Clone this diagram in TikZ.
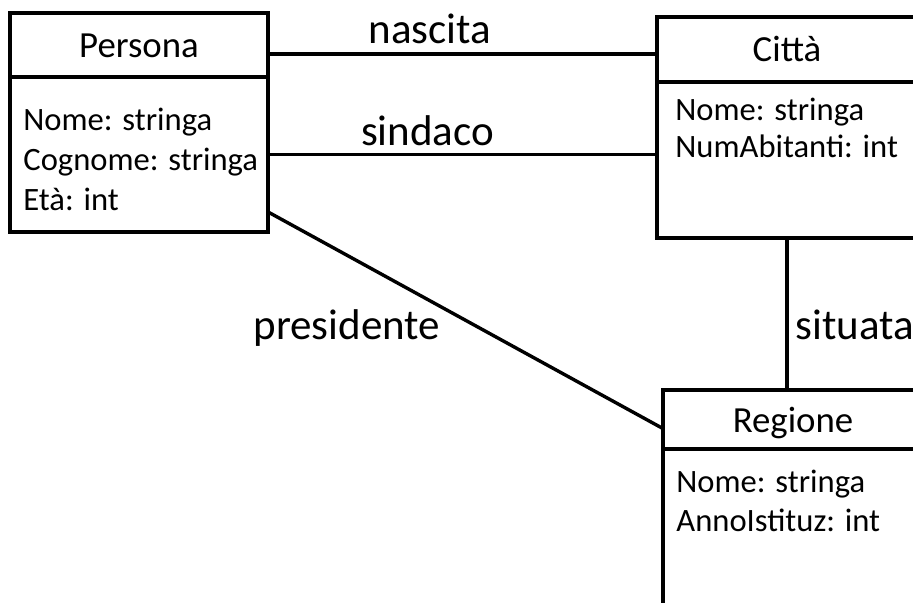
\documentclass[tikz,border=0pt]{standalone}
\usepackage{fontspec}
\setmainfont{Carlito}
\usetikzlibrary{positioning}

\begin{document}
\begin{tikzpicture}[
    x=0.5pt,
    y=-0.5pt,
    classname/.style={draw, rectangle, line width=2pt, outer sep=0pt, inner sep=0pt,
      minimum width=130pt, anchor=north west, text height=12.5pt, text depth=0pt,
      font=\fontsize{18.4}{22}\selectfont},
    classbody/.style={draw, rectangle, line width=2pt, outer sep=0pt,
      minimum width=130pt, minimum height=78pt},
    attrs/.style={anchor=base west, inner sep=0pt, align=left,
      font=\fontsize{16.3}{19.5}\selectfont},
    assoc/.style={line width=1.7pt},
    role/.style={inner sep=0pt, font=\fontsize{21.5}{26}\selectfont}
  ]

  \useasboundingbox (0,0) rectangle (913,603);
  \clip (0,0) rectangle (913,603);

  % --- CLASS POSITIONING ---
  \node[classname, minimum width=129pt, minimum height=32pt] (persona) at (10,13) {Persona};
  \node[classbody, minimum width=129pt, minimum height=77.5pt, below=0pt of persona] (personabody) {};

  \node[classname, minimum height=32.5pt] (citta) at (657,17) {Città};
  \node[classbody, below=0pt of citta] (cittabody) {};

  \node[classname, minimum height=29.5pt] (regione) at (663,390) {Regione};
  \node[classbody, below=0pt of regione] (regionebody) {};

  % --- ATTRIBUTES (base = last line) ---
  \node[attrs, font=\fontsize{16.3}{20}\selectfont] (personaattr)
    at ([shift={(13,134)}]personabody.north west) {Nome: stringa\\Cognome: stringa\\Età: int};
  \node[attrs, font=\fontsize{16.3}{18.5}\selectfont] (cittaattr)
    at ([shift={(18,76)}]cittabody.north west) {Nome: stringa\\NumAbitanti: int};
  \node[attrs] (regioneattr)
    at ([shift={(13,82)}]regionebody.north west) {Nome: stringa\\AnnoIstituz: int};

  % --- ASSOCIATIONS ---
  \draw[assoc] (persona.-4.9) -- (persona.-4.9 -| citta.west)
    node[role, pos=.416, anchor=base, yshift=5.5pt] {nascita};
  \draw[assoc] (personabody.east) -- (personabody.east -| cittabody.west)
    node[role, pos=.41, anchor=base, yshift=4.5pt] {sindaco};
  \draw[assoc] (personabody.-24) -- (regione.184.6)
    node[role, pos=.44, anchor=base east, yshift=-16pt] {presidente};
  \draw[assoc] (cittabody.south) -- (cittabody.south |- regione.north)
    node[role, pos=.67, anchor=base west, xshift=3.5pt] {situata};

\end{tikzpicture}
\end{document}
